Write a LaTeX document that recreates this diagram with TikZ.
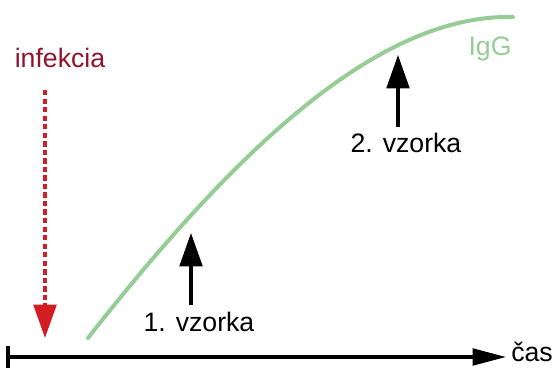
\documentclass[tikz,border=0pt]{standalone}
\usepackage{fontspec}
\setmainfont{Liberation Sans}
\usetikzlibrary{arrows.meta,positioning}
\definecolor{wine}{RGB}{145,20,45}
\definecolor{signal}{RGB}{210,30,35}
\definecolor{sage}{RGB}{150,205,150}
\definecolor{ink}{RGB}{0,0,0}
\tikzset{
  lbl/.style={font=\fontsize{20}{24}\selectfont,text=#1,inner sep=0pt},
  lbl/.default=ink,
  sample/.style={-{Triangle[length=25pt,width=17pt]},line width=2.3pt,draw=ink},
  onset/.style={-{Triangle[length=25pt,width=17pt]},line width=2.6pt,draw=signal,
    dash pattern=on 4pt off 2.4pt},
  timeline/.style={-{Triangle[length=25pt,width=12.5pt]},line width=2.3pt,draw=ink},
  curve/.style={line width=3pt,draw=#1},
  curve/.default=sage,
}

\begin{document}
\begin{tikzpicture}[x=0.75pt,y=-0.75pt]
    \useasboundingbox (0,0) rectangle (558,370);
    % time axis
    \coordinate (t0) at (8,357);
    \coordinate (tend) at (506,357);
    \draw[timeline] (t0) -- (tend);
    \draw[line width=2.3pt] ([yshift=-8pt]t0) -- ([yshift=8pt]t0);
    \node[lbl,anchor=base west] (cas) at (511,362) {čas};
    % antibody curve
    \coordinate (igg0) at (88,338);
    \coordinate (igg1) at (513,17);
    \draw[curve,line cap=round] (igg0) .. controls (243,140) and (383,14) .. (igg1);
    \node[lbl=sage,anchor=base] (igg) at (490,56) {IgG};
    % infection
    \node[lbl=wine,anchor=base] (inf) at (60,68) {infekcia};
    \coordinate (infpt) at (45,338);
    \draw[onset] (infpt |- 0,90) -- (infpt);
    % samples
    \node[lbl,anchor=base] (vz1) at (199,332) {1. vzorka};
    \coordinate (odber1) at (191,233);
    \draw[sample] (odber1 |- 0,305) -- (odber1);
    \node[lbl,anchor=base] (vz2) at (406,153) {2. vzorka};
    \coordinate (odber2) at (398,55);
    \draw[sample] (odber2 |- 0,127) -- (odber2);
\end{tikzpicture}
\end{document}
